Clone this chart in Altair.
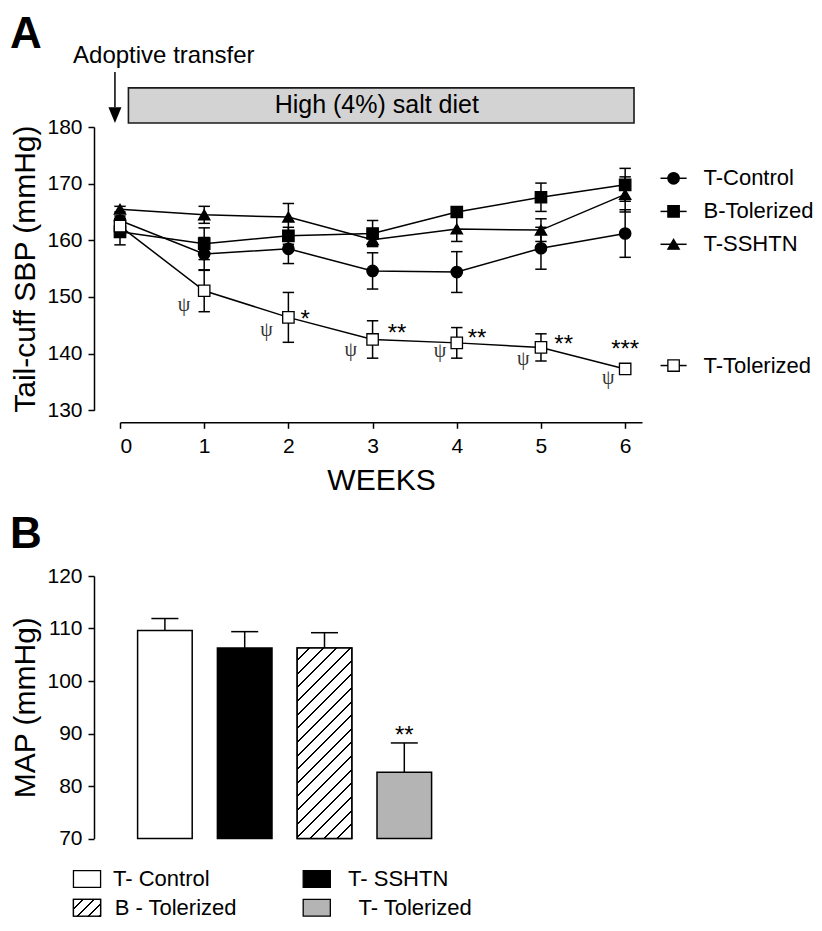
import altair as alt
import pandas as pd

# ---------------- Panel A data ----------------
weeks = [0, 1, 2, 3, 4, 5, 6]
groups = ["T-Control", "B-Tolerized", "T-SSHTN", "T-Tolerized"]
t_control = [163.5, 157.6, 158.5, 154.6, 154.4, 158.6, 161.2]
t_control_sem = [0.8, 2.9, 2.6, 3.2, 3.6, 3.7, 4.2]
b_tolerized = [161.5, 159.4, 160.8, 161.2, 165.0, 167.6, 169.8]
b_tolerized_sem = [2.3, 2.8, 1.5, 2.3, 0.8, 2.5, 2.9]
t_sshtn = [165.5, 164.5, 164.1, 160.1, 162.0, 161.8, 168.1]
t_sshtn_sem = [0.5, 1.5, 2.4, 1.0, 2.2, 2.0, 3.1]
t_tolerized = [162.5, 151.1, 146.4, 142.5, 141.9, 141.1, 137.3]
t_tolerized_sem = [1.0, 3.7, 4.4, 3.3, 2.7, 2.4, 0.5]

psi_x = [0.76, 1.74, 2.74, 3.80, 4.79, 5.80]
psi_y = [148.5, 144.1, 140.7, 140.4, 139.1, 135.7]
star_text = ["*", "**", "**", "**", "***"]
star_x = [2.2, 3.29, 4.24, 5.27, 6.0]
star_y = [147.1, 144.7, 143.8, 142.7, 141.8]

legend_a_y = [170.95, 165.1, 159.3, 137.9]
y_ticks_a = [130, 140, 150, 160, 170, 180]

# ---------------- Panel B data ----------------
bar_labels = ["T- Control", "T- SSHTN", "B - Tolerized", "T- Tolerized"]
bar_pos = [1, 2, 3, 4]
map_vals = [109.6, 106.3, 106.3, 82.6]
map_sem = [2.3, 3.1, 2.9, 5.6]
bar_colors = ["white", "black", "white", "#b4b4b4"]
y_ticks_b = [70, 80, 90, 100, 110, 120]

legend_b_cx = [0.024, 2.903, 0.024, 2.903]
legend_b_cy = [62.3, 62.3, 56.8, 56.8]
legend_b_tx = [0.35, 3.295, 0.37, 3.425]

# ---------------- sizes / styles ----------------
A_W, A_H = 522, 283.3
B_W, B_H = 329.2, 262.5
FONT = "Liberation Sans"


def hatch(w, h, n, frac):
    c = (w + h) / (w * w + h * h)
    stops = []
    for k in range(n):
        a, b = k / n, (k + 1) / n
        m = b - frac / n
        stops += [
            {"offset": a, "color": "white"},
            {"offset": m, "color": "white"},
            {"offset": m, "color": "black"},
            {"offset": b, "color": "black"},
        ]
    return {"gradient": "linear", "x1": 0, "y1": 0, "x2": w * c, "y2": h * c, "stops": stops}


# ---------------- Panel A ----------------
xs_a = alt.Scale(domain=[0, 6.2], nice=False, zero=False)
ys_a = alt.Scale(domain=[130, 180], nice=False, zero=False)
x_axis_a = alt.Axis(values=weeks, title="WEEKS", offset=12, labelAngle=0, format="d")
y_axis_a = alt.Axis(values=y_ticks_a, title="Tail-cuff SBP (mmHg)", offset=26, format="d")


def XA(f):
    return alt.X(f, type="quantitative", scale=xs_a, axis=x_axis_a)


def YA(f):
    return alt.Y(f, type="quantitative", scale=ys_a, axis=y_axis_a)


series = {"T-Control": (t_control, t_control_sem), "B-Tolerized": (b_tolerized, b_tolerized_sem),
          "T-SSHTN": (t_sshtn, t_sshtn_sem), "T-Tolerized": (t_tolerized, t_tolerized_sem)}
rows = []
for g in groups:
    vals, sems = series[g]
    for w, v, s in zip(weeks, vals, sems):
        rows.append({"group": g, "week": w, "val": v, "lo": v - s, "hi": v + s})
df_a = pd.DataFrame(rows)

shape_enc = alt.Shape("group:N", scale=alt.Scale(domain=groups, range=["circle", "square", "triangle-up", "square"]), legend=None)
fill_enc = alt.Fill("group:N", scale=alt.Scale(domain=groups, range=["black", "black", "black", "white"]), legend=None)
size_enc = alt.Size("group:O", scale=alt.Scale(domain=groups, range=[130, 130, 170, 100]), legend=None)

base_a = alt.Chart(df_a)
lines = base_a.mark_line(color="black", strokeWidth=1.5).encode(x=XA("week"), y=YA("val"), detail="group:N")
errs = base_a.mark_rule(color="black", strokeWidth=1.5).encode(x=XA("week"), y=YA("lo"), y2="hi")
cap_style = dict(shape="M-1,0L1,0", size=130, stroke="black", strokeWidth=1.5, filled=False, opacity=1)
cap_lo = base_a.mark_point(**cap_style).encode(x=XA("week"), y=YA("lo"))
cap_hi = base_a.mark_point(**cap_style).encode(x=XA("week"), y=YA("hi"))
markers = base_a.mark_point(filled=True, opacity=1, stroke="black", strokeWidth=1.3).encode(
    x=XA("week"), y=YA("val"), shape=shape_enc, fill=fill_enc, size=size_enc)

df_leg_a = pd.DataFrame({"group": groups, "ly": legend_a_y, "x1": 6.42, "x2": 6.73, "xm": 6.575, "xt": 6.93})
leg_lines = alt.Chart(df_leg_a).mark_rule(color="black", strokeWidth=1.5).encode(x=XA("x1"), x2="x2", y=YA("ly"))
leg_marks = alt.Chart(df_leg_a).mark_point(filled=True, opacity=1, stroke="black", strokeWidth=1.3).encode(
    x=XA("xm"), y=YA("ly"), shape=shape_enc, fill=fill_enc, size=size_enc)
leg_text = alt.Chart(df_leg_a).mark_text(align="left", baseline="middle", fontSize=22, font=FONT, color="black").encode(
    x=XA("xt"), y=YA("ly"), text="group:N")

df_banner = pd.DataFrame({"x1": [0.1], "x2": [6.105], "y1": [180.7], "y2": [186.9], "xc": [3.05], "yc": [183.8],
                          "label": ["High (4%) salt diet"]})
banner = alt.Chart(df_banner).mark_rect(fill="#d3d3d3", stroke="#1a1a1a", strokeWidth=1.6).encode(
    x=XA("x1"), x2="x2", y=YA("y1"), y2="y2")
banner_text = alt.Chart(df_banner).mark_text(fontSize=25, font=FONT, baseline="middle", align="center", color="black").encode(
    x=XA("xc"), y=YA("yc"), text="label:N")

df_arrow = pd.DataFrame({"x": [-0.06], "y1": [189.7], "y2": [183.5], "yh": [182.1], "xt": [0.52], "yt": [191.3],
                         "label": ["Adoptive transfer"]})
arrow_line = alt.Chart(df_arrow).mark_rule(color="black", strokeWidth=1.5).encode(x=XA("x"), y=YA("y1"), y2="y2")
arrow_head = alt.Chart(df_arrow).mark_point(shape="M-1,-1.2L1,-1.2L0,1.2Z", size=169, filled=True, fill="black",
                                            opacity=1, strokeWidth=0).encode(x=XA("x"), y=YA("yh"))
arrow_text = alt.Chart(df_arrow).mark_text(fontSize=24, font=FONT, baseline="alphabetic", align="center", color="black").encode(
    x=XA("xt"), y=YA("yt"), text="label:N")

df_psi = pd.DataFrame({"x": psi_x, "y": psi_y, "t": ["ψ"] * len(psi_x)})
psi = alt.Chart(df_psi).mark_text(fontSize=20, font="Liberation Serif", baseline="middle", color="#333333",
                                  opacity=0.99).encode(x=XA("x"), y=YA("y"), text="t:N")
df_star = pd.DataFrame({"x": star_x, "y": star_y, "t": star_text})
stars = alt.Chart(df_star).mark_text(fontSize=24, font=FONT, baseline="alphabetic", dy=13.5, color="black").encode(
    x=XA("x"), y=YA("y"), text="t:N")

df_la = pd.DataFrame({"t": ["A"]})
label_a = alt.Chart(df_la).mark_text(fontSize=44, fontWeight="bold", font=FONT, align="left", baseline="top",
                                     color="black").encode(x=alt.value(-110), y=alt.value(-113.7), text="t:N")

panel_a = alt.layer(lines, errs, cap_lo, cap_hi, markers, leg_lines, leg_marks, leg_text, banner, banner_text,
                    arrow_line, arrow_head, arrow_text, psi, stars, label_a).properties(width=A_W, height=A_H)

# ---------------- Panel B ----------------
xs_b = alt.Scale(domain=[0.5, 4.5], nice=False, zero=False)
ys_b = alt.Scale(domain=[70, 120], nice=False, zero=False)
y_axis_b = alt.Axis(values=y_ticks_b, title="MAP (mmHg)", offset=26, format="d")


def XB(f):
    return alt.X(f, type="quantitative", scale=xs_b, axis=None)


def YB(f):
    return alt.Y(f, type="quantitative", scale=ys_b, axis=y_axis_b)


df_b = pd.DataFrame({"label": bar_labels, "pos": bar_pos, "map": map_vals,
                     "hi": [m + s for m, s in zip(map_vals, map_sem)]})
fill_b = alt.Fill("label:N", scale=alt.Scale(domain=bar_labels, range=bar_colors), legend=None)

BAR_W = 54.6
px_per_unit = B_H / 50.0
hatch_bar = hatch(BAR_W, (map_vals[2] - 70) * px_per_unit, 18, 0.15)
hatch_box = hatch(28, 17, 4, 0.2)

bars = alt.Chart(df_b).mark_bar(size=BAR_W, stroke="black", strokeWidth=1.5).encode(
    x=XB("pos"), y=YB("map"), y2=alt.datum(70), fill=fill_b)
bar_hatch = alt.Chart(df_b).transform_filter(alt.datum.label == "B - Tolerized").mark_bar(
    size=BAR_W, stroke="black", strokeWidth=1.5, fill=hatch_bar).encode(x=XB("pos"), y=YB("map"), y2=alt.datum(70))
err_b = alt.Chart(df_b).mark_rule(color="black", strokeWidth=1.5).encode(x=XB("pos"), y=YB("map"), y2="hi")
cap_b = alt.Chart(df_b).mark_point(shape="M-1,0L1,0", size=729, stroke="black", strokeWidth=1.5, filled=False,
                                   opacity=1).encode(x=XB("pos"), y=YB("hi"))
df_star_b = pd.DataFrame({"x": [4], "y": [90.8], "t": ["**"]})
star_b = alt.Chart(df_star_b).mark_text(fontSize=24, font=FONT, baseline="alphabetic", dy=13.5, color="black").encode(
    x=XB("x"), y=YB("y"), text="t:N")

df_leg_b = pd.DataFrame({"label": bar_labels,
                         "x1": [c - 0.17 for c in legend_b_cx], "x2": [c + 0.17 for c in legend_b_cx],
                         "y1": [c - 1.6 for c in legend_b_cy], "y2": [c + 1.6 for c in legend_b_cy],
                         "yc": legend_b_cy, "xt": legend_b_tx})
leg_box = alt.Chart(df_leg_b).mark_rect(stroke="black", strokeWidth=1.3).encode(
    x=XB("x1"), x2="x2", y=YB("y1"), y2="y2", fill=fill_b)
leg_box_h = alt.Chart(df_leg_b).transform_filter(alt.datum.label == "B - Tolerized").mark_rect(
    stroke="black", strokeWidth=1.3, fill=hatch_box).encode(x=XB("x1"), x2="x2", y=YB("y1"), y2="y2")
leg_text_b = alt.Chart(df_leg_b).mark_text(align="left", baseline="middle", fontSize=22, font=FONT, color="black").encode(
    x=XB("xt"), y=YB("yc"), text="label:N")

df_lb = pd.DataFrame({"t": ["B"]})
label_b = alt.Chart(df_lb).mark_text(fontSize=44, fontWeight="bold", font=FONT, align="left", baseline="top",
                                     color="black").encode(x=alt.value(-110), y=alt.value(-63), text="t:N")

panel_b = alt.layer(bars, bar_hatch, err_b, cap_b, star_b, leg_box, leg_box_h, leg_text_b, label_b).properties(
    width=B_W, height=B_H)

chart = alt.vconcat(panel_a, panel_b, spacing=165, bounds="flush").resolve_scale(
    fill="independent", shape="independent", size="independent"
).properties(
    padding={"left": 2, "top": 5, "right": 0, "bottom": 0}
).configure(font=FONT).configure_view(stroke=None).configure_axis(
    domainColor="black", domainWidth=1.5, tickColor="black", tickWidth=1.5, tickSize=6, grid=False,
    labelFontSize=21, labelColor="black", labelFont=FONT, labelPadding=6,
    titleFontSize=30, titleFontWeight="normal", titleColor="black", titleFont=FONT, titlePadding=6
).configure_axisBottom(labelPadding=7, titlePadding=9)

chart.save("out.html", embed_options={"renderer": "svg", "actions": False})
